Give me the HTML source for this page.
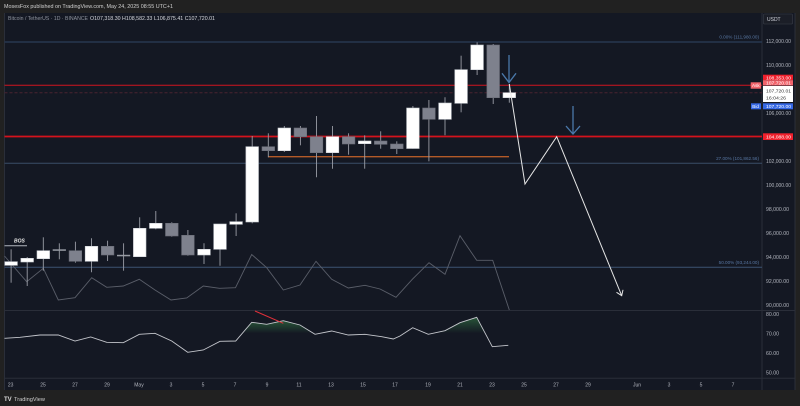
<!DOCTYPE html>
<html><head><meta charset="utf-8"><style>
html,body{margin:0;padding:0;background:#212121;}
svg{display:block;}
text{font-family:"Liberation Sans",sans-serif;}
</style></head><body>
<svg width="800" height="406" viewBox="0 0 800 406" xmlns="http://www.w3.org/2000/svg">
<defs>
<linearGradient id="g" x1="0" y1="0" x2="0" y2="1">
<stop offset="0" stop-color="#2f6b40" stop-opacity="0.75"/>
<stop offset="1" stop-color="#2f6b40" stop-opacity="0"/>
</linearGradient>
</defs>
<rect x="0" y="0" width="800" height="406" fill="#212121"/>
<text x="4" y="8" font-size="5.6" fill="#d0d0d0" textLength="169" lengthAdjust="spacingAndGlyphs">MosesFox published on TradingView.com, May 24, 2025 08:55 UTC+1</text>
<!-- panel -->
<rect x="4.5" y="13" width="790.5" height="377" fill="#141823"/>
<line x1="4.5" y1="13" x2="4.5" y2="390" stroke="#2a2e39" stroke-width="1"/>
<line x1="762" y1="13" x2="762" y2="390" stroke="#2a2e39" stroke-width="1"/>
<line x1="4.5" y1="310.5" x2="795" y2="310.5" stroke="#2a2e39" stroke-width="1"/>
<line x1="4.5" y1="378.3" x2="795" y2="378.3" stroke="#2a2e39" stroke-width="1"/>
<line x1="795" y1="13" x2="795" y2="390" stroke="#2a2e39" stroke-width="1"/>

<!-- symbol line -->
<text x="8" y="20" font-size="5.2" fill="#8d929c" textLength="80" lengthAdjust="spacingAndGlyphs">Bitcoin / TetherUS · 1D · BINANCE</text>
<text x="90" y="20" font-size="5.2" fill="#d6d8de" textLength="125" lengthAdjust="spacingAndGlyphs">O107,318.30 H108,582.33 L106,875.41 C107,720.01</text>

<!-- horizontal lines -->
<line x1="4.5" y1="42" x2="762" y2="42" stroke="#263750" stroke-width="1.6"/>
<line x1="4.5" y1="85.3" x2="762" y2="85.3" stroke="#d0141f" stroke-width="1"/>
<line x1="4.5" y1="92.7" x2="762" y2="92.7" stroke="#4a2230" stroke-width="1" stroke-dasharray="3,2"/>
<line x1="4.5" y1="136.5" x2="762" y2="136.5" stroke="#d5121c" stroke-width="1.8"/>
<line x1="4.5" y1="163.2" x2="762" y2="163.2" stroke="#3a4d68" stroke-width="1"/>
<line x1="4.5" y1="267.3" x2="762" y2="267.3" stroke="#3d5373" stroke-width="1"/>
<line x1="268" y1="156.7" x2="509" y2="156.7" stroke="#b35a28" stroke-width="1.4"/>

<text x="759" y="38.5" font-size="4.6" fill="#5877a3" text-anchor="end">0.00% (111,980.00)</text>
<text x="759" y="160" font-size="4.6" fill="#5877a3" text-anchor="end">27.00% (101,862.56)</text>
<text x="759" y="264" font-size="4.6" fill="#5877a3" text-anchor="end">50.00% (93,244.00)</text>

<!-- gray indicator line -->
<polyline fill="none" stroke="#5a5e69" stroke-width="0.9" points="4.5,256 26.7,281.7 43.3,268.3 58.3,300 75,297.7 91.7,277.7 106.7,287.3 123.3,286 139.3,279.3 155,290 171,300 186.7,298 203.3,286 219.5,288.3 235.5,287.7 251.7,254.5 266.7,267.7 283.3,290 300,285 316,261.3 331.7,279.3 348.3,288 365,285.3 380,289 396,297.3 412.3,279.3 429,262.7 445,274.3 460,235.7 476.7,260.3 492.7,260.3 509.3,310"/>

<!-- BOS -->
<line x1="4.5" y1="245.7" x2="27" y2="245.7" stroke="#b2b5be" stroke-width="1"/>
<text x="14" y="242.5" font-size="5" font-weight="bold" font-style="italic" fill="#e8e8e8">BOS</text>

<!-- candles -->
<g stroke="#9a9da6" stroke-width="0.9">
<line x1="11.1" y1="249.3" x2="11.1" y2="282.7"/>
<line x1="27.2" y1="257" x2="27.2" y2="286"/>
<line x1="43.3" y1="237.3" x2="43.3" y2="270.7"/>
<line x1="59.3" y1="243.3" x2="59.3" y2="259.3"/>
<line x1="75.4" y1="241.7" x2="75.4" y2="262.7"/>
<line x1="91.5" y1="238.3" x2="91.5" y2="272.3"/>
<line x1="107.6" y1="240.7" x2="107.6" y2="261"/>
<line x1="123.6" y1="243.3" x2="123.6" y2="270.7"/>
<line x1="139.7" y1="217.3" x2="139.7" y2="256.7"/>
<line x1="155.8" y1="211" x2="155.8" y2="229.3"/>
<line x1="171.8" y1="222.3" x2="171.8" y2="236.7"/>
<line x1="187.9" y1="230" x2="187.9" y2="255.7"/>
<line x1="204" y1="243.3" x2="204" y2="264"/>
<line x1="220" y1="224" x2="220" y2="265.7"/>
<line x1="236.1" y1="213.3" x2="236.1" y2="236"/>
<line x1="252.2" y1="136" x2="252.2" y2="223.3"/>
<line x1="268.3" y1="133.3" x2="268.3" y2="157.3"/>
<line x1="284.3" y1="126" x2="284.3" y2="152"/>
<line x1="300.4" y1="126" x2="300.4" y2="145.3"/>
<line x1="316.5" y1="116" x2="316.5" y2="177.3"/>
<line x1="332.5" y1="126" x2="332.5" y2="168.7"/>
<line x1="348.6" y1="133.3" x2="348.6" y2="154.7"/>
<line x1="364.7" y1="135.3" x2="364.7" y2="168.7"/>
<line x1="380.7" y1="131.3" x2="380.7" y2="148.7"/>
<line x1="396.8" y1="141.3" x2="396.8" y2="154"/>
<line x1="412.9" y1="106" x2="412.9" y2="148.7"/>
<line x1="428.9" y1="100" x2="428.9" y2="161.3"/>
<line x1="445" y1="97.3" x2="445" y2="135.3"/>
<line x1="461.1" y1="55.7" x2="461.1" y2="112.3"/>
<line x1="477.1" y1="42.3" x2="477.1" y2="75"/>
<line x1="493.2" y1="44" x2="493.2" y2="104"/>
<line x1="509.3" y1="84" x2="509.3" y2="102.7"/>
</g>
<g stroke-width="0.6">
<rect x="4.8" y="261.7" width="12.6" height="3.6" fill="#ffffff" stroke="#c9cbd1"/>
<rect x="20.9" y="258.3" width="12.6" height="3.7" fill="#ffffff" stroke="#c9cbd1"/>
<rect x="37" y="250.7" width="12.6" height="8" fill="#ffffff" stroke="#c9cbd1"/>
<rect x="53" y="249.6" width="12.6" height="0.9" fill="#9a9da6" stroke="#9a9da6"/>
<rect x="69.1" y="250.7" width="12.6" height="10.6" fill="#7e818d" stroke="#6a6d78"/>
<rect x="85.2" y="246.3" width="12.6" height="15" fill="#ffffff" stroke="#c9cbd1"/>
<rect x="101.3" y="246.3" width="12.6" height="8.7" fill="#7e818d" stroke="#6a6d78"/>
<rect x="117.3" y="255.1" width="12.6" height="0.9" fill="#9a9da6" stroke="#9a9da6"/>
<rect x="133.4" y="228.3" width="12.6" height="28.4" fill="#ffffff" stroke="#c9cbd1"/>
<rect x="149.5" y="223.3" width="12.6" height="5" fill="#ffffff" stroke="#c9cbd1"/>
<rect x="165.5" y="223.3" width="12.6" height="12.7" fill="#7e818d" stroke="#6a6d78"/>
<rect x="181.6" y="235.3" width="12.6" height="19.7" fill="#7e818d" stroke="#6a6d78"/>
<rect x="197.7" y="249.3" width="12.6" height="5.7" fill="#ffffff" stroke="#c9cbd1"/>
<rect x="213.7" y="224" width="12.6" height="25.3" fill="#ffffff" stroke="#c9cbd1"/>
<rect x="229.8" y="221.7" width="12.6" height="2.6" fill="#ffffff" stroke="#c9cbd1"/>
<rect x="245.9" y="146.7" width="12.6" height="75.3" fill="#ffffff" stroke="#c9cbd1"/>
<rect x="262" y="146.7" width="12.6" height="4" fill="#7e818d" stroke="#6a6d78"/>
<rect x="278" y="128" width="12.6" height="22.7" fill="#ffffff" stroke="#c9cbd1"/>
<rect x="294.1" y="128" width="12.6" height="8.7" fill="#7e818d" stroke="#6a6d78"/>
<rect x="310.2" y="136.7" width="12.6" height="16" fill="#7e818d" stroke="#6a6d78"/>
<rect x="326.2" y="136.7" width="12.6" height="16" fill="#ffffff" stroke="#c9cbd1"/>
<rect x="342.3" y="136.7" width="12.6" height="7.3" fill="#7e818d" stroke="#6a6d78"/>
<rect x="358.4" y="141" width="12.6" height="2.7" fill="#ffffff" stroke="#c9cbd1"/>
<rect x="374.4" y="141" width="12.6" height="3.3" fill="#7e818d" stroke="#6a6d78"/>
<rect x="390.5" y="144" width="12.6" height="4.7" fill="#7e818d" stroke="#6a6d78"/>
<rect x="406.6" y="108" width="12.6" height="40.5" fill="#ffffff" stroke="#c9cbd1"/>
<rect x="422.6" y="108" width="12.6" height="11.3" fill="#7e818d" stroke="#6a6d78"/>
<rect x="438.7" y="103" width="12.6" height="16.3" fill="#ffffff" stroke="#c9cbd1"/>
<rect x="454.8" y="69.7" width="12.6" height="33.6" fill="#ffffff" stroke="#c9cbd1"/>
<rect x="470.8" y="45" width="12.6" height="24.7" fill="#ffffff" stroke="#c9cbd1"/>
<rect x="486.9" y="45" width="12.6" height="52.7" fill="#7e818d" stroke="#6a6d78"/>
<rect x="503" y="92.7" width="12.6" height="5" fill="#ffffff" stroke="#c9cbd1"/>
</g>

<!-- projection path -->
<polyline fill="none" stroke="#e6e6e6" stroke-width="1" points="509.3,84 525,184 556.7,136.7 621.7,295.7"/>
<polyline fill="none" stroke="#e6e6e6" stroke-width="1" points="616.5,292.3 621.7,295.7 623,289.8"/>

<!-- blue arrows -->
<g stroke="#4a78aa" stroke-width="1.3" fill="none">
<line x1="509" y1="55" x2="509" y2="82.5"/>
<polyline points="502,73.3 509,82.5 516,73.3"/>
<line x1="573" y1="106" x2="573" y2="134"/>
<polyline points="566,126 573,134 580,126"/>
</g>

<!-- RSI -->
<polygon fill="url(#g)" points="242.3,333.3 251.7,322.3 266.7,324.3 283.3,320.7 300,325 313.4,333.3"/>
<polygon fill="url(#g)" points="433,333.3 445,330.7 460,322.7 476.7,317.3 485.2,333.3"/>
<polyline fill="none" stroke="#c4c6cc" stroke-width="0.9" points="4.5,338.3 20,337.3 40,335 58.3,335 75,341 90.7,337 106.7,342.3 123.3,342.7 139.3,334.3 155,333.3 171.7,341 187.7,352.3 203.3,350 220,341.3 235.7,341 251.7,322.3 266.7,324.3 283.3,320.7 300,325 315,334.3 331.7,331 348.3,335 365,334.3 381.7,336.7 393.3,339 400,336 412.7,327.7 428.3,334.3 445,330.7 460,322.7 476.7,317.3 492.3,346.7 508.3,345.3"/>
<line x1="255" y1="311" x2="283.3" y2="323.3" stroke="#e2303a" stroke-width="1"/>

<!-- right axis labels -->
<rect x="763.5" y="14" width="29" height="10" rx="1" fill="#1b1e27" stroke="#3a3e49" stroke-width="0.6"/>
<text x="767" y="21" font-size="5" fill="#d1d4dc">USDT</text>
<g font-size="5" fill="#b2b5be">
<text x="766" y="42.8" textLength="25" lengthAdjust="spacingAndGlyphs">112,000.00</text>
<text x="766" y="66.8" textLength="25" lengthAdjust="spacingAndGlyphs">110,000.00</text>
<text x="766" y="114.8" textLength="25" lengthAdjust="spacingAndGlyphs">106,000.00</text>
<text x="766" y="162.8" textLength="25" lengthAdjust="spacingAndGlyphs">102,000.00</text>
<text x="766" y="186.8" textLength="25" lengthAdjust="spacingAndGlyphs">100,000.00</text>
<text x="766" y="210.8" textLength="23" lengthAdjust="spacingAndGlyphs">98,000.00</text>
<text x="766" y="234.8" textLength="23" lengthAdjust="spacingAndGlyphs">96,000.00</text>
<text x="766" y="258.8" textLength="23" lengthAdjust="spacingAndGlyphs">94,000.00</text>
<text x="766" y="282.8" textLength="23" lengthAdjust="spacingAndGlyphs">92,000.00</text>
<text x="766" y="306.8" textLength="23" lengthAdjust="spacingAndGlyphs">90,000.00</text>
<text x="766" y="316" textLength="13" lengthAdjust="spacingAndGlyphs">80.00</text>
<text x="766" y="335.3" textLength="13" lengthAdjust="spacingAndGlyphs">70.00</text>
<text x="766" y="354.8" textLength="13" lengthAdjust="spacingAndGlyphs">60.00</text>
<text x="766" y="374.5" textLength="13" lengthAdjust="spacingAndGlyphs">50.00</text>
</g>
<rect x="763" y="74.7" width="30" height="5.5" fill="#f0202c"/>
<text x="766" y="79.3" font-size="4.8" fill="#ffffff" textLength="25" lengthAdjust="spacingAndGlyphs">108,353.00</text>
<rect x="763" y="80.2" width="30" height="5.3" fill="#f2646c"/>
<text x="766" y="84.6" font-size="4.8" fill="#ffffff" textLength="25" lengthAdjust="spacingAndGlyphs">107,720.01</text>
<rect x="750.7" y="82.3" width="10.3" height="6.4" fill="#f2646c"/>
<text x="752" y="87.2" font-size="4.6" fill="#ffffff">Ask</text>
<rect x="763" y="86" width="30" height="16" fill="#ffffff"/>
<text x="766" y="92.5" font-size="4.8" fill="#333" textLength="25" lengthAdjust="spacingAndGlyphs">107,720.01</text>
<text x="766" y="99.5" font-size="4.8" fill="#333" textLength="20" lengthAdjust="spacingAndGlyphs">16:04:26</text>
<rect x="763" y="103.3" width="30" height="6" fill="#3568e6"/>
<text x="766" y="108.2" font-size="4.8" fill="#ffffff" textLength="25" lengthAdjust="spacingAndGlyphs">107,720.00</text>
<rect x="751" y="103.3" width="10" height="6" fill="#3568e6"/>
<text x="752.3" y="108.2" font-size="4.6" fill="#ffffff">Bid</text>
<rect x="763" y="133.3" width="30" height="6.7" fill="#f0202c"/>
<text x="766" y="138.6" font-size="4.8" fill="#ffffff" textLength="25" lengthAdjust="spacingAndGlyphs">104,088.00</text>

<!-- time axis -->
<g font-size="5" fill="#b2b5be" text-anchor="middle">
<text x="10.7" y="386.5">23</text>
<text x="43" y="386.5">25</text>
<text x="75" y="386.5">27</text>
<text x="107" y="386.5">29</text>
<text x="139" y="386.5">May</text>
<text x="171" y="386.5">3</text>
<text x="203" y="386.5">5</text>
<text x="235" y="386.5">7</text>
<text x="267" y="386.5">9</text>
<text x="299" y="386.5">11</text>
<text x="331" y="386.5">13</text>
<text x="363" y="386.5">15</text>
<text x="395" y="386.5">17</text>
<text x="428" y="386.5">19</text>
<text x="460" y="386.5">21</text>
<text x="492" y="386.5">23</text>
<text x="524" y="386.5">25</text>
<text x="556" y="386.5">27</text>
<text x="588" y="386.5">29</text>
<text x="637" y="386.5">Jun</text>
<text x="669" y="386.5">3</text>
<text x="701" y="386.5">5</text>
<text x="733" y="386.5">7</text>
</g>

<!-- footer logo -->
<text x="4" y="401" font-size="6" font-weight="bold" fill="#d8d8d8">TV</text>
<text x="14" y="401" font-size="5.6" fill="#cfcfcf" textLength="31" lengthAdjust="spacingAndGlyphs">TradingView</text>
</svg>
</body></html>
